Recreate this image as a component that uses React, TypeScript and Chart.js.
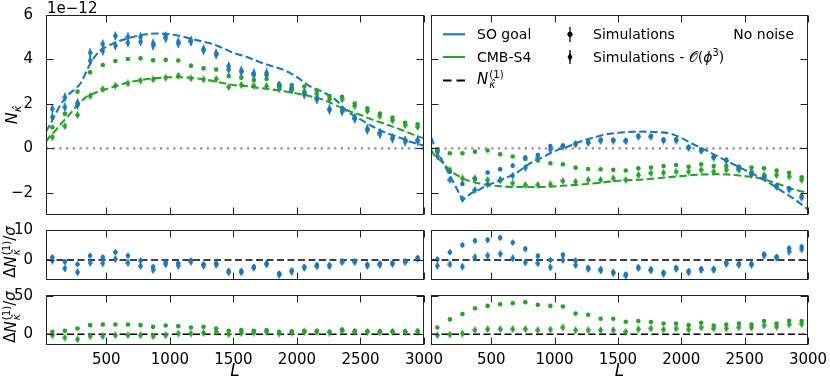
import React, { useEffect, useRef } from "react";
import { Chart, registerables } from "chart.js";
Chart.register(...registerables);

const W = 830;
const H = 386;
const BLUE = "#1f77b4";
const GREEN = "#2ca02c";
const FONT = "'DejaVu Sans', 'Liberation Sans', sans-serif";

// ---- data -------------------------------------------------------------
const L_BINS = [75, 174, 273, 372, 472, 571, 670, 769, 868, 967, 1066, 1166, 1265, 1364, 1463, 1562, 1661, 1761, 1860, 1959, 2058, 2157, 2256, 2355, 2455, 2554, 2653, 2752, 2851, 2950];

// N_kappa (units 1e-12), with noise (left column)
const SO_SIM_NOISE = [1.78, 2.30, 2.05, 4.30, 4.70, 5.06, 5.02, 5.02, 4.72, 5.05, 4.80, 4.85, 4.47, 4.27, 3.70, 3.50, 3.38, 3.40, 2.83, 2.72, 2.48, 2.27, 1.78, 1.72, 1.38, 0.88, 0.70, 0.48, 0.37, 0.38];
const SO_SIM3_NOISE = [1.40, 1.85, 1.95, 3.95, 4.38, 4.62, 4.75, 4.80, 4.62, 4.95, 4.72, 4.80, 4.40, 4.22, 3.55, 3.45, 3.30, 3.30, 2.78, 2.65, 2.42, 2.20, 1.72, 1.66, 1.32, 0.82, 0.63, 0.43, 0.30, 0.32];
const S4_SIM_NOISE = [0.95, 1.55, 2.55, 3.42, 3.75, 3.93, 4.02, 4.05, 3.96, 3.98, 3.95, 3.72, 3.60, 3.55, 3.25, 3.18, 3.07, 3.12, 2.88, 2.85, 2.78, 2.60, 2.35, 2.32, 2.02, 1.80, 1.56, 1.38, 1.15, 1.08];
const S4_SIM3_NOISE = [0.50, 1.00, 1.50, 2.35, 2.66, 2.82, 2.92, 3.05, 3.10, 3.18, 3.27, 3.15, 3.10, 3.12, 2.76, 2.85, 2.82, 2.80, 2.66, 2.62, 2.55, 2.45, 2.22, 2.20, 1.90, 1.68, 1.45, 1.26, 1.04, 0.96];

// no noise (right column)
const SO_SIM_NONOISE = [-0.15, -1.05, -1.60, -1.38, -1.09, -0.94, -0.78, -0.42, -0.30, 0.10, 0.12, 0.22, 0.28, 0.38, 0.38, 0.36, 0.56, 0.55, 0.40, 0.40, 0.06, -0.08, -0.38, -0.52, -0.85, -1.12, -1.28, -1.68, -1.80, -2.15];
const SO_SIM3_NONOISE = [-0.35, -1.42, -2.28, -1.87, -1.62, -1.42, -1.23, -0.87, -0.45, -0.05, 0.08, 0.18, 0.24, 0.34, 0.34, 0.32, 0.52, 0.52, 0.35, 0.35, 0.02, -0.12, -0.42, -0.56, -0.90, -1.18, -1.32, -1.74, -1.86, -2.22];
const S4_SIM_NONOISE = [-0.07, -0.22, -0.22, -0.15, -0.10, -0.27, -0.37, -0.48, -0.55, -0.67, -0.72, -0.87, -0.93, -0.94, -0.97, -1.00, -0.90, -0.86, -0.80, -0.75, -0.83, -0.72, -0.80, -0.80, -0.83, -0.86, -0.90, -1.00, -1.10, -1.30];
const S4_SIM3_NONOISE = [-0.10, -0.97, -1.35, -1.35, -1.42, -1.42, -1.57, -1.65, -1.65, -1.62, -1.47, -1.50, -1.42, -1.42, -1.35, -1.42, -1.20, -1.12, -1.10, -1.05, -1.05, -0.97, -1.05, -0.97, -0.97, -1.05, -1.20, -1.20, -1.27, -1.42];

// theory N^(1) curves
const THEORY_L = [25, 50, 100, 150, 200, 250, 275, 300, 350, 400, 450, 500, 600, 700, 800, 900, 1000, 1100, 1200, 1300, 1400, 1500, 1600, 1700, 1800, 1900, 2000, 2100, 2200, 2300, 2400, 2500, 2600, 2700, 2800, 2900, 3000];
const SO_N1_NOISE = [0.75, 1.0, 1.55, 2.05, 2.4, 2.65, 2.78, 2.95, 3.55, 4.05, 4.4, 4.57, 4.83, 5.0, 5.12, 5.17, 5.13, 5.03, 4.88, 4.75, 4.55, 4.3, 4.12, 3.9, 3.7, 3.52, 3.2, 2.8, 2.55, 2.2, 1.65, 1.3, 0.97, 0.7, 0.5, 0.28, 0.12];
const S4_N1_NOISE = [0.3, 0.5, 0.8, 1.15, 1.45, 1.8, 1.95, 2.1, 2.35, 2.47, 2.58, 2.67, 2.85, 3.0, 3.1, 3.16, 3.2, 3.2, 3.15, 3.07, 2.95, 2.85, 2.8, 2.72, 2.65, 2.57, 2.47, 2.35, 2.2, 1.95, 1.7, 1.5, 1.28, 1.08, 0.88, 0.65, 0.45];
const SO_N1_NONOISE = [0.5, 0.15, -0.4, -0.97, -1.5, -2.05, -2.3, -2.2, -2.0, -1.88, -1.72, -1.6, -1.37, -1.1, -0.7, -0.42, -0.13, 0.07, 0.3, 0.47, 0.62, 0.7, 0.74, 0.75, 0.73, 0.68, 0.47, 0.17, -0.1, -0.4, -0.68, -0.97, -1.25, -1.58, -1.95, -2.32, -2.75];
const S4_N1_NONOISE = [-0.05, -0.3, -0.55, -0.85, -1.1, -1.27, -1.35, -1.42, -1.5, -1.57, -1.63, -1.67, -1.72, -1.74, -1.74, -1.74, -1.71, -1.67, -1.63, -1.58, -1.52, -1.46, -1.43, -1.4, -1.35, -1.3, -1.25, -1.2, -1.17, -1.16, -1.19, -1.25, -1.32, -1.48, -1.67, -1.87, -2.0];

// residuals  Delta N^(1) / sigma
const SO_RES_SIM_NOISE = [0.9, -0.55, -1.4, 1.4, 0.9, 2.55, 1.4, -0.2, -2.3, -0.8, -1.1, -0.2, -1.4, -1.2, -3.7, -3.7, -2.3, -1.1, -4.5, -3.5, -2.3, -1.7, -1.7, -0.4, -0.4, -1.5, -1.2, -0.9, -0.4, 0.7];
const SO_RES_SIM3_NOISE = [-0.2, -2.8, -4.1, -0.9, -1.1, 0.3, -0.9, -2.0, -3.3, -1.4, -1.9, -0.55, -1.9, -1.6, -4.1, -4.1, -2.6, -1.5, -4.9, -3.9, -2.6, -2.1, -2.1, -0.7, -0.7, -1.9, -1.6, -1.3, -0.7, 0.4];
const S4_RES_SIM_NOISE = [3.0, 4.4, 7.5, 11.8, 12.7, 12.7, 12.7, 11.8, 9.6, 11.4, 10.5, 8.8, 9.6, 7.5, 4.4, 5.3, 4.4, 5.3, 3.0, 3.9, 4.4, 4.4, 3.0, 6.1, 4.4, 3.9, 3.9, 3.9, 3.9, 4.4];
const S4_RES_SIM3_NOISE = [-1.3, -4.4, -6.6, -2.6, -2.6, -1.3, -1.3, -1.3, -2.6, -1.3, 0.9, 0.9, 1.8, 3.0, 0.0, 1.8, 2.2, 3.0, 0.9, 2.2, 3.0, 3.0, 2.0, 4.4, 3.0, 3.0, 2.6, 3.0, 2.6, 3.5];
const SO_RES_SIM_NONOISE = [0.2, 2.55, 5.0, 6.4, 6.7, 7.4, 5.8, 3.7, 1.3, 0.0, 1.7, -0.2, -2.6, -3.1, -4.0, -4.8, -2.4, -3.1, -4.2, -2.6, -3.7, -2.9, -2.9, -0.9, -1.3, -1.3, 1.9, 1.1, 3.9, 4.4];
const SO_RES_SIM3_NONOISE = [-1.9, -1.45, -2.2, 0.9, 1.45, 2.0, 0.55, -0.8, -1.1, -2.45, 0.0, -1.7, -3.0, -3.5, -4.4, -5.2, -2.7, -3.5, -4.6, -3.0, -4.1, -3.3, -3.3, -1.3, -1.6, -1.6, 1.5, 0.7, 2.8, 3.55];
const S4_RES_SIM_NONOISE = [8.8, 19.3, 26.3, 33.8, 36.8, 39.0, 40.4, 41.7, 38.2, 36.8, 36.0, 26.8, 25.4, 20.2, 20.2, 16.2, 17.1, 15.8, 14.0, 14.0, 11.8, 14.9, 11.4, 12.7, 14.0, 12.7, 17.1, 14.0, 17.5, 17.1];
const S4_RES_SIM3_NONOISE = [-1.3, -0.4, 0.9, 5.3, 6.6, 6.6, 6.6, 6.6, 5.3, 6.1, 8.8, 5.3, 5.3, 5.3, 5.3, 3.1, 6.6, 7.5, 6.1, 7.5, 6.1, 8.8, 7.5, 7.5, 8.8, 8.8, 11.4, 9.6, 12.7, 13.2];

// error bar half-widths per series
const ERR_SO_NOISE = 0.2;
const ERR_S4_NOISE = 0.08;
const ERR_SO_NONOISE = 0.1;
const ERR_S4_NONOISE = 0.05;
const ERR_RES = 1.0;

// axes
const X_RANGE = [25, 3000];
const X_TICKS = [500, 1000, 1500, 2000, 2500, 3000];
const Y_MAIN_RANGE = [-3, 6];
const Y_MAIN_TICKS = [-2, 0, 2, 4, 6];
const Y_RES_SO_RANGE = [-6.67, 10];
const Y_RES_SO_TICKS = [0, 10];
const Y_RES_S4_RANGE = [-14, 51];
const Y_RES_S4_TICKS = [0, 50];

// ---- helpers ----------------------------------------------------------
const pts = (ys: number[]) => L_BINS.map((x, i) => ({ x, y: ys[i] }));
const curve = (ys: number[]) => THEORY_L.map((x, i) => ({ x, y: ys[i] }));

const diamondCache: Record<string, HTMLCanvasElement> = {};
function diamond(color: string) {
  if (diamondCache[color]) return diamondCache[color];
  const c = document.createElement("canvas");
  c.width = 5;
  c.height = 8;
  const g = c.getContext("2d")!;
  g.fillStyle = color;
  g.beginPath();
  g.moveTo(2.5, 0);
  g.lineTo(5, 4);
  g.lineTo(2.5, 8);
  g.lineTo(0, 4);
  g.closePath();
  g.fill();
  diamondCache[color] = c;
  return c;
}

function simSet(ys: number[], color: string, kind: "circle" | "diamond", err: number) {
  return {
    data: pts(ys),
    showLine: false,
    pointStyle: kind === "circle" ? "circle" : diamond(color),
    pointRadius: kind === "circle" ? 2.3 : 3,
    backgroundColor: color,
    borderColor: color,
    pointBorderWidth: 0,
    errHalf: err,
    order: 1,
  };
}

function theorySet(ys: number[], color: string) {
  return {
    data: curve(ys),
    showLine: true,
    borderColor: color,
    borderWidth: 2.1,
    borderDash: [7.5, 3.4],
    borderCapStyle: "butt",
    pointRadius: 0,
    fill: false,
    cubicInterpolationMode: "monotone",
    order: 2,
  };
}

function zeroSet(kind: "grey" | "black") {
  return {
    data: [
      { x: X_RANGE[0], y: 0 },
      { x: X_RANGE[1], y: 0 },
    ],
    showLine: true,
    borderColor: kind === "grey" ? "#8c8c8c" : "#000000",
    borderWidth: kind === "grey" ? 2.2 : 1.7,
    borderDash: kind === "grey" ? [2.2, 4.5] : [7, 3.5],
    borderCapStyle: "butt",
    pointRadius: 0,
    fill: false,
    order: 3,
  };
}

function makeFrameTicks(xTicks: number[], yTicks: number[]) {
  return {
    id: "frameTicks",
    afterDraw(chart: any) {
      const { ctx, chartArea: a, scales } = chart;
      const L = Math.round(a.left) + 0.5;
      const R = Math.round(a.right) - 0.5;
      const T = Math.round(a.top) + 0.5;
      const B = Math.round(a.bottom) - 0.5;
      ctx.save();
      ctx.strokeStyle = "#222";
      ctx.lineWidth = 1;
      ctx.beginPath();
      const tl = 7;
      xTicks.forEach((v) => {
        const p = Math.round(scales.x.getPixelForValue(v)) + 0.5;
        if (p < a.left - 1 || p > a.right + 1) return;
        ctx.moveTo(p, B);
        ctx.lineTo(p, B - tl);
        ctx.moveTo(p, T);
        ctx.lineTo(p, T + tl);
      });
      yTicks.forEach((v) => {
        const p = Math.round(scales.y.getPixelForValue(v)) + 0.5;
        if (p < a.top - 1 || p > a.bottom + 1) return;
        ctx.moveTo(L, p);
        ctx.lineTo(L + tl, p);
        ctx.moveTo(R, p);
        ctx.lineTo(R - tl, p);
      });
      ctx.stroke();
      ctx.strokeRect(L, T, R - L, B - T);
      ctx.restore();
    },
  };
}

const errorBars = {
  id: "errorBars",
  afterDatasetsDraw(chart: any) {
    const { ctx, scales, chartArea: a } = chart;
    ctx.save();
    ctx.beginPath();
    ctx.rect(a.left, a.top, a.right - a.left, a.bottom - a.top);
    ctx.clip();
    chart.data.datasets.forEach((ds: any) => {
      if (!ds.errHalf) return;
      ctx.strokeStyle = ds.borderColor;
      ctx.lineWidth = 1.3;
      ctx.beginPath();
      ds.data.forEach((d: any) => {
        const px = scales.x.getPixelForValue(d.x);
        ctx.moveTo(px, scales.y.getPixelForValue(d.y - ds.errHalf));
        ctx.lineTo(px, scales.y.getPixelForValue(d.y + ds.errHalf));
      });
      ctx.stroke();
    });
    ctx.restore();
  },
};

const fmtNum = (v: number) => String(v).replace("-", "\u2212");

type Spec = {
  left: number;
  right: number;
  top: number;
  bottom: number;
  yRange: number[];
  yTicks: number[];
  showY: boolean;
  showX: boolean;
  datasets: any[];
};

const Y_AXIS_W = 46;
const X_AXIS_H = 41;

function buildConfig(s: Spec): any {
  return {
    type: "line",
    data: { datasets: s.datasets },
    options: {
      animation: false,
      responsive: false,
      maintainAspectRatio: false,
      events: [],
      layout: {
        padding: {
          left: s.showY ? s.left - Y_AXIS_W : s.left,
          right: W - s.right,
          top: s.top,
          bottom: s.showX ? H - s.bottom - X_AXIS_H : H - s.bottom,
        },
      },
      plugins: {
        legend: { display: false },
        tooltip: { enabled: false },
      },
      scales: {
        x: {
          type: "linear",
          min: X_RANGE[0],
          max: X_RANGE[1],
          display: s.showX,
          position: "bottom",
          grid: { display: false },
          border: { display: false },
          ticks: {
            font: { family: FONT, size: 15 },
            color: "#000",
            padding: -2,
            autoSkip: false,
            maxRotation: 0,
            minRotation: 0,
            callback: (v: number) => fmtNum(v),
          },
          afterBuildTicks: (sc: any) => {
            sc.ticks = X_TICKS.map((v) => ({ value: v }));
          },
          title: {
            display: true,
            text: "L",
            color: "#000",
            font: { family: FONT, size: 17, style: "italic" },
            padding: { top: 0, bottom: 4 },
          },
          afterFit: (sc: any) => {
            if (!s.showX) return;
            sc.height = X_AXIS_H;
            sc.paddingLeft = 0;
            sc.paddingRight = 0;
          },
        },
        y: {
          type: "linear",
          min: s.yRange[0],
          max: s.yRange[1],
          display: s.showY,
          position: "left",
          grid: { display: false },
          border: { display: false },
          ticks: {
            font: { family: FONT, size: 15 },
            color: "#000",
            padding: 5,
            autoSkip: false,
            callback: (v: number) => fmtNum(v),
          },
          afterBuildTicks: (sc: any) => {
            sc.ticks = s.yTicks.map((v) => ({ value: v }));
          },
          afterFit: (sc: any) => {
            if (!s.showY) return;
            sc.width = Y_AXIS_W;
            sc.paddingTop = 0;
            sc.paddingBottom = 0;
          },
        },
      },
    },
    plugins: [makeFrameTicks(X_TICKS, s.yTicks), errorBars],
  };
}

function Panel({ spec }: { spec: Spec }) {
  const ref = useRef<HTMLCanvasElement>(null);
  useEffect(() => {
    const chart = new Chart(ref.current as HTMLCanvasElement, buildConfig(spec));
    return () => chart.destroy();
  }, []);
  return (
    <canvas
      ref={ref}
      width={W}
      height={H}
      style={{ position: "absolute", left: 0, top: 0, width: W, height: H }}
    />
  );
}

const COL_L = { left: 46, right: 424 };
const COL_R = { left: 431, right: 808 };
const ROW_T = { top: 15, bottom: 215 };
const ROW_M = { top: 230, bottom: 280 };
const ROW_B = { top: 295, bottom: 345 };

const SPECS: Spec[] = [
  {
    ...COL_L, ...ROW_T, yRange: Y_MAIN_RANGE, yTicks: Y_MAIN_TICKS, showY: true, showX: false,
    datasets: [
      simSet(SO_SIM_NOISE, BLUE, "diamond", ERR_SO_NOISE),
      simSet(SO_SIM3_NOISE, BLUE, "diamond", ERR_SO_NOISE),
      simSet(S4_SIM_NOISE, GREEN, "circle", ERR_S4_NOISE),
      simSet(S4_SIM3_NOISE, GREEN, "diamond", ERR_S4_NOISE),
      theorySet(SO_N1_NOISE, BLUE),
      theorySet(S4_N1_NOISE, GREEN),
      zeroSet("grey"),
    ],
  },
  {
    ...COL_R, ...ROW_T, yRange: Y_MAIN_RANGE, yTicks: Y_MAIN_TICKS, showY: false, showX: false,
    datasets: [
      simSet(SO_SIM_NONOISE, BLUE, "circle", ERR_SO_NONOISE),
      simSet(SO_SIM3_NONOISE, BLUE, "diamond", ERR_SO_NONOISE),
      simSet(S4_SIM_NONOISE, GREEN, "circle", ERR_S4_NONOISE),
      simSet(S4_SIM3_NONOISE, GREEN, "diamond", ERR_S4_NONOISE),
      theorySet(SO_N1_NONOISE, BLUE),
      theorySet(S4_N1_NONOISE, GREEN),
      zeroSet("grey"),
    ],
  },
  {
    ...COL_L, ...ROW_M, yRange: Y_RES_SO_RANGE, yTicks: Y_RES_SO_TICKS, showY: true, showX: false,
    datasets: [
      simSet(SO_RES_SIM_NOISE, BLUE, "circle", ERR_RES),
      simSet(SO_RES_SIM3_NOISE, BLUE, "diamond", ERR_RES),
      zeroSet("black"),
    ],
  },
  {
    ...COL_R, ...ROW_M, yRange: Y_RES_SO_RANGE, yTicks: Y_RES_SO_TICKS, showY: false, showX: false,
    datasets: [
      simSet(SO_RES_SIM_NONOISE, BLUE, "circle", ERR_RES),
      simSet(SO_RES_SIM3_NONOISE, BLUE, "diamond", ERR_RES),
      zeroSet("black"),
    ],
  },
  {
    ...COL_L, ...ROW_B, yRange: Y_RES_S4_RANGE, yTicks: Y_RES_S4_TICKS, showY: true, showX: true,
    datasets: [
      simSet(S4_RES_SIM_NOISE, GREEN, "circle", ERR_RES),
      simSet(S4_RES_SIM3_NOISE, GREEN, "diamond", ERR_RES),
      zeroSet("black"),
    ],
  },
  {
    ...COL_R, ...ROW_B, yRange: Y_RES_S4_RANGE, yTicks: Y_RES_S4_TICKS, showY: false, showX: true,
    datasets: [
      simSet(S4_RES_SIM_NONOISE, GREEN, "circle", ERR_RES),
      simSet(S4_RES_SIM3_NONOISE, GREEN, "diamond", ERR_RES),
      zeroSet("black"),
    ],
  },
];

// ---- text overlays ----------------------------------------------------
const it: React.CSSProperties = { fontStyle: "italic" };
const stack: React.CSSProperties = {
  display: "inline-flex",
  flexDirection: "column",
  fontSize: "0.68em",
  lineHeight: 1.0,
  verticalAlign: "0.55em",
  marginLeft: 1,
};

function KappaHat() {
  return <span style={it}>{"\u03ba\u0302"}</span>;
}

function N1Label() {
  return (
    <span>
      <span style={it}>N</span>
      <span style={stack}>
        <span>(1)</span>
        <KappaHat />
      </span>
    </span>
  );
}

function RotLabel({ cx, cy, size, children }: { cx: number; cy: number; size: number; children: React.ReactNode }) {
  return (
    <div
      style={{
        position: "absolute",
        left: cx,
        top: cy,
        transform: "translate(-50%,-50%) rotate(-90deg)",
        whiteSpace: "nowrap",
        fontFamily: FONT,
        fontSize: size,
        lineHeight: 1,
        color: "#000",
      }}
    >
      {children}
    </div>
  );
}

function Txt({ x, y, children, right }: { x: number; y: number; children: React.ReactNode; right?: boolean }) {
  return (
    <div
      style={{
        position: "absolute",
        left: right ? undefined : x,
        right: right ? W - x : undefined,
        top: y,
        transform: "translateY(-50%)",
        whiteSpace: "nowrap",
        fontFamily: FONT,
        fontSize: 14,
        lineHeight: 1,
        color: "#000",
      }}
    >
      {children}
    </div>
  );
}

export default function App() {
  return (
    <div
      style={{
        position: "absolute",
        left: 0,
        top: 0,
        width: W,
        height: H,
        background: "#fff",
        overflow: "hidden",
      }}
    >
      {SPECS.map((s, i) => (
        <Panel key={i} spec={s} />
      ))}

      {/* offset text */}
      <div style={{ position: "absolute", left: 47, top: 1, fontFamily: FONT, fontSize: 15, lineHeight: 1 }}>
        1e{"\u2212"}12
      </div>

      {/* y-axis labels */}
      <RotLabel cx={14} cy={115} size={16}>
        <span style={it}>N</span>
        <span style={{ fontSize: "0.7em", verticalAlign: "-0.35em" }}>
          <KappaHat />
        </span>
      </RotLabel>
      <RotLabel cx={12} cy={252} size={15}>
        {"\u0394"}
        <N1Label />/<span style={it}>{"\u03c3"}</span>
      </RotLabel>
      <RotLabel cx={12} cy={317} size={15}>
        {"\u0394"}
        <N1Label />/<span style={it}>{"\u03c3"}</span>
      </RotLabel>

      {/* legend samples */}
      <svg width={W} height={H} style={{ position: "absolute", left: 0, top: 0 }}>
        <line x1={443} x2={465} y1={34.3} y2={34.3} stroke={BLUE} strokeWidth={2.1} />
        <line x1={443} x2={465} y1={57} y2={57} stroke={GREEN} strokeWidth={2.1} />
        <line x1={443} x2={466} y1={80.5} y2={80.5} stroke="#000" strokeWidth={2.1} strokeDasharray="8.5 5" />
        <line x1={570} x2={570} y1={27} y2={42} stroke="#000" strokeWidth={1.3} />
        <circle cx={570} cy={34.3} r={2.6} fill="#000" />
        <line x1={570} x2={570} y1={50} y2={64} stroke="#000" strokeWidth={1.3} />
        <polygon points="570,53 572.5,57 570,61 567.5,57" fill="#000" />
      </svg>

      {/* legend text */}
      <Txt x={477} y={34.3}>SO goal</Txt>
      <Txt x={477} y={57}>CMB-S4</Txt>
      <Txt x={477} y={80}>
        <span style={{ fontSize: 15 }}>
          <N1Label />
        </span>
      </Txt>
      <Txt x={593} y={34.3}>Simulations</Txt>
      <Txt x={593} y={57}>
        Simulations - {"\ud835\udcaa"}(<span style={it}>{"\u03d5"}</span>
        <sup style={{ fontSize: "0.7em", lineHeight: 0 }}>3</sup>)
      </Txt>
      <Txt x={794} y={34.3} right>
        No noise
      </Txt>
    </div>
  );
}
